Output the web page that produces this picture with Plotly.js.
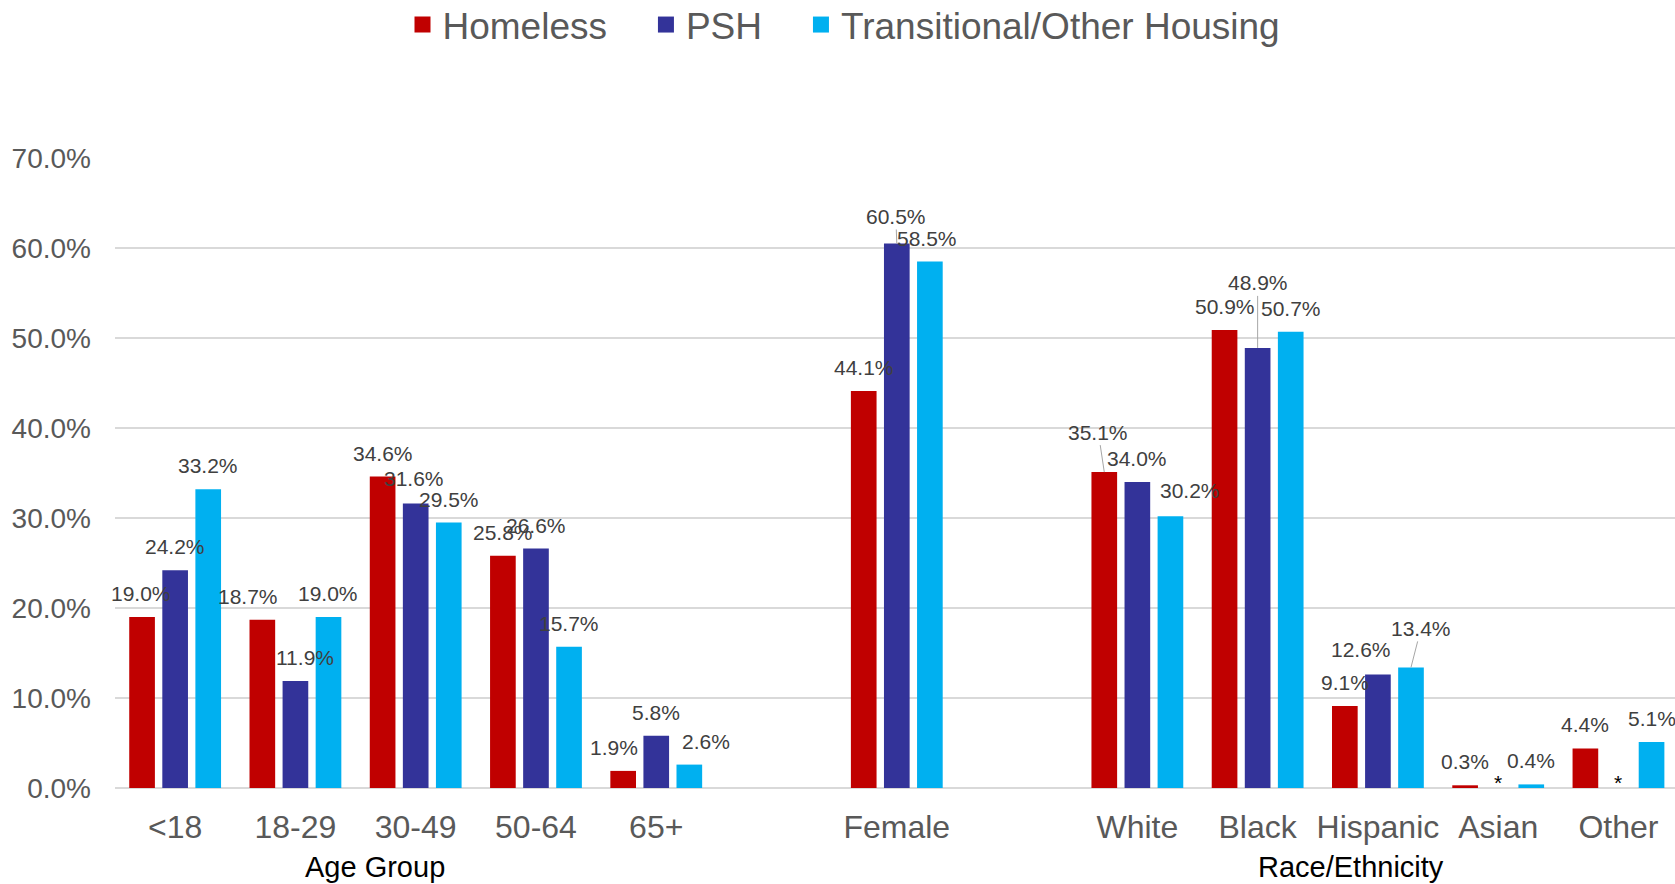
<!DOCTYPE html>
<html>
<head>
<meta charset="utf-8">
<script src="https://cdn.plot.ly/plotly-3.0.1.min.js"></script>
<style>html,body{margin:0;padding:0;background:#fff;}#chart{width:1675px;height:884px;}</style>
</head>
<body>
<div id="chart"></div>
<script>
// ---- data ----
const categories = ['<18', '18-29', '30-49', '50-64', '65+', 'Female', 'White', 'Black', 'Hispanic', 'Asian', 'Other'];
const axisSlots = ['<18', '18-29', '30-49', '50-64', '65+', ' ', 'Female', '  ', 'White', 'Black', 'Hispanic', 'Asian', 'Other'];
const homeless = [19.0, 18.7, 34.6, 25.8, 1.9, 44.1, 35.1, 50.9, 9.1, 0.3, 4.4];
const psh = [24.2, 11.9, 31.6, 26.6, 5.8, 60.5, 34.0, 48.9, 12.6, null, null];
const transitional = [33.2, 19.0, 29.5, 15.7, 2.6, 58.5, 30.2, 50.7, 13.4, 0.4, 5.1];
const seriesNames = ['Homeless', 'PSH', 'Transitional/Other Housing'];
const yTickVals = [0, 10, 20, 30, 40, 50, 60, 70];
const yTickText = yTickVals.map(v => v.toFixed(1) + '%');
const groupTitles = ['Age Group', 'Race/Ethnicity'];

// ---- styling ----
const FONT = 'Liberation Sans, Arial, sans-serif';
const colors = ['#C00000', '#333399', '#00B0F0'];
const series = [homeless, psh, transitional];
const GAP = '\u00a0\u00a0\u00a0\u200a';

// label nudges (pixels): [dx, dyExtra] per series per category; arrow = leader line offsets
const nudges = [
  [[-1,0],[-14,0],[0,0],[0,0],[-9,0],[0,0],{arrow:[-6,-40]},[0,0],[0,0],[0,0],[0,0]],
  [[0,0],[10,0],[-2,2],[0,0],[0,0],{arrow:[-1,-27]},[0,0],{arrow:[0,-65]},[-17,2],[0,0],[0,0]],
  [[0,0],[0,0],[0,0],[0,0],[17,0],[-3,0],[20,2],[0,0],{arrow:[10,-39]},[0,0],[0,0]]
];

const barTraces = series.map((vals, i) => ({
  type: 'bar',
  name: seriesNames[i],
  x: categories,
  y: vals,
  marker: {color: colors[i]},
  showlegend: false,
  hoverinfo: 'x+y'
}));
// legend entries (larger square swatches than the bar legend icon)
const legendTraces = seriesNames.map((nm, i) => ({
  type: 'scatter', mode: 'markers',
  name: nm + (i < 2 ? GAP : ''),
  x: [null], y: [null],
  marker: {symbol: 'square', size: 16, color: colors[i]},
  showlegend: true, hoverinfo: 'skip'
}));

const marginL = 115, marginR = 0, W = 1675;
const xRange = [-0.5, axisSlots.length - 0.53];
const bargap = 0.175;
const slotPx = (W - marginL - marginR) / (xRange[1] - xRange[0]);
const barSlot = slotPx * (1 - bargap) / 3;

const annotations = [];
series.forEach((vals, i) => {
  vals.forEach((v, j) => {
    const off = (i - 1) * barSlot;
    const n = nudges[i][j];
    if (v === null) {
      annotations.push({
        x: categories[j], y: 0, xref: 'x', yref: 'y', text: '*', showarrow: false,
        xshift: off, yshift: 6, xanchor: 'center', yanchor: 'middle',
        font: {family: FONT, size: 21, color: '#000000'}
      });
      return;
    }
    const txt = v.toFixed(1) + '%';
    if (n.arrow) {
      annotations.push({
        x: categories[j], y: v, xref: 'x', yref: 'y', text: txt, showarrow: true,
        arrowhead: 0, arrowwidth: 1, arrowcolor: '#a6a6a6', ax: n.arrow[0], ay: n.arrow[1],
        xshift: off, standoff: 0, startstandoff: 0,
        font: {family: FONT, size: 21, color: '#404040'}
      });
    } else {
      annotations.push({
        x: categories[j], y: v, xref: 'x', yref: 'y', text: txt, showarrow: false,
        xshift: off + n[0], yshift: 23.5 + n[1], xanchor: 'center', yanchor: 'middle',
        font: {family: FONT, size: 21, color: '#404040'}
      });
    }
  });
});

annotations.push({
  xref: 'paper', yref: 'paper', x: (375 - marginL) / 1560, y: -(866.5 - 788) / 630,
  text: groupTitles[0], showarrow: false, xanchor: 'center', yanchor: 'middle',
  font: {family: FONT, size: 29, color: '#000000'}
});
annotations.push({
  xref: 'paper', yref: 'paper', x: (1351 - marginL) / 1560, y: -(866.5 - 788) / 630,
  text: groupTitles[1], showarrow: false, xanchor: 'center', yanchor: 'middle',
  font: {family: FONT, size: 29, color: '#000000'}
});

const layout = {
  width: 1675, height: 884,
  margin: {l: marginL, r: marginR, t: 158, b: 96, pad: 0},
  paper_bgcolor: '#ffffff', plot_bgcolor: '#ffffff',
  barmode: 'group', bargap: bargap, bargroupgap: 0.224,
  font: {family: FONT, color: '#595959'},
  showlegend: true,
  legend: {
    orientation: 'h', x: (402.5 - marginL) / 1560, xanchor: 'left',
    yref: 'container', y: 1 - 25 / 884, yanchor: 'middle',
    font: {family: FONT, size: 37, color: '#595959'},
    traceorder: 'normal', bgcolor: 'rgba(0,0,0,0)', itemsizing: 'trace'
  },
  xaxis: {
    type: 'category', categoryorder: 'array', categoryarray: axisSlots,
    range: xRange,
    tickfont: {family: FONT, size: 32, color: '#595959'},
    ticks: '', showgrid: false, showline: false, zeroline: false,
    ticklabelstandoff: 17, fixedrange: true
  },
  yaxis: {
    range: [0, 70], tickmode: 'array', tickvals: yTickVals, ticktext: yTickText,
    tickfont: {family: FONT, size: 28, color: '#595959'},
    gridcolor: '#d9d9d9', gridwidth: 2,
    zeroline: true, zerolinecolor: '#d9d9d9', zerolinewidth: 2,
    showline: false, ticks: '', ticklabelstandoff: 23, fixedrange: true
  },
  annotations: annotations
};

Plotly.newPlot('chart', barTraces.concat(legendTraces), layout, {displayModeBar: false, staticPlot: true});
</script>
</body>
</html>
